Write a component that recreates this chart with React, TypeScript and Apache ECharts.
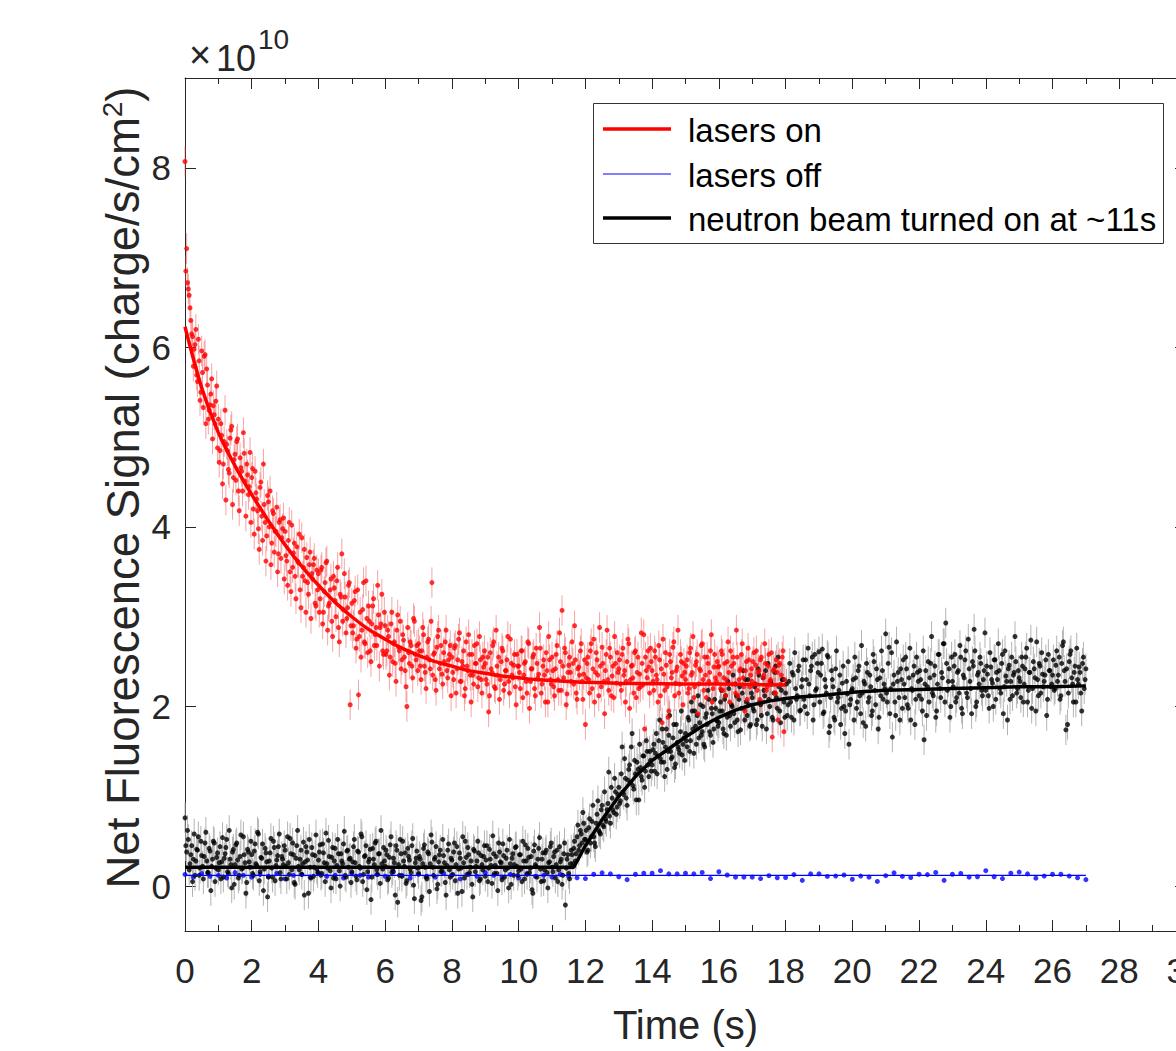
import React, { useEffect, useRef } from "react";
import * as echarts from "echarts";

const FONT = "'Liberation Sans', Arial, Helvetica, sans-serif";

// x-axis ticks (s) and y-axis ticks (×10^10)
const X_TICKS_STEP = 2;
const Y_TICKS = [0, 2, 4, 6, 8];

// sampling of the measured series (s): two interleaved sets each
const RED_DT = 0.05;
const BLACK_DT = 0.05;
const BLUE_DT = 0.25;
const OFFSET_B = 0.025;

// error-bar half-widths (×10^10)
const RED_ERR = 0.17;
const BLACK_ERR = 0.17;

// lasers on — measured points (×10^10), t = 0 .. 17.95 s
const RED_VALUES = [
  8.07, 7.1, 6.65, 6.44, 6.15, 5.79, 6.03, 5.69, 6.09, 5.41, 5.96, 5.33, 5.92, 5.76, 5.2, 5.36, 5.65, 5.35, 5.15, 5.57,
  5.2, 4.85, 5.02, 4.7, 5.3, 4.92, 4.64, 4.99, 5.12, 4.55, 4.81, 4.95, 4.4, 4.77, 4.62, 5.05, 4.51, 4.7, 4.36, 4.83,
  4.55, 4.2, 4.62, 4.31, 3.98, 4.44, 4.12, 4.7, 4.05, 3.9, 4.28, 4.4, 3.82, 4.15, 3.95, 4.22, 3.7, 4.08, 3.88, 4.1,
  3.95, 3.62, 3.85, 3.5, 4.02, 3.71, 3.45, 3.78, 3.6, 3.3, 3.88, 3.55, 3.4, 3.66, 3.25, 3.72, 3.48, 3.58, 3.15, 3.52,
  3.48, 3.2, 3.55, 3.05, 3.38, 3.62, 3.12, 3.3, 2.95, 3.45, 3.18, 3.4, 2.88, 3.25, 3.7, 3.08, 3.22, 2.98, 3.35, 2.02,
  3.15, 2.9, 3.28, 2.75, 2.13, 3.05, 2.85, 3.38, 2.7, 2.98, 3.12, 2.62, 2.92, 3.2, 2.8, 2.68, 3.02, 2.88, 3.25, 2.58,
  2.9, 2.62, 2.78, 2.55, 3.05, 2.7, 2.48, 2.85, 2.66, 2.95, 2.52, 2.74, 2.4, 2.0, 2.6, 2.72, 2.45, 2.98, 2.58, 2.68,
  2.7, 2.45, 2.62, 2.8, 2.38, 2.55, 2.75, 2.42, 3.38, 2.58, 2.3, 2.66, 2.85, 2.48, 2.36, 2.6, 2.72, 2.4, 2.52, 2.68,
  2.55, 2.3, 2.68, 2.42, 2.75, 2.28, 2.5, 2.62, 2.2, 2.45, 2.8, 2.35, 2.58, 2.25, 2.48, 2.7, 2.32, 2.52, 2.15, 2.44,
  2.48, 2.25, 1.94, 2.6, 2.38, 2.72, 2.2, 2.45, 2.55, 2.3, 2.65, 2.18, 2.4, 2.52, 2.28, 2.75, 2.35, 2.46, 2.22, 2.58,
  2.45, 2.2, 2.62, 2.35, 2.5, 2.15, 2.7, 2.28, 2.42, 2.58, 2.12, 2.48, 2.36, 2.65, 2.25, 2.52, 2.05, 2.4, 2.78, 2.3,
  2.55, 2.22, 2.42, 2.68, 2.18, 2.5, 3.07, 2.32, 2.6, 2.14, 2.46, 2.38, 2.72, 2.25, 2.52, 2.08, 2.44, 2.62, 2.28, 2.36,
  1.8, 2.48, 2.3, 2.62, 2.2, 2.75, 2.38, 2.52, 2.12, 2.45, 2.66, 2.28, 2.4, 2.85, 2.18, 2.55, 2.34, 2.1, 2.48, 2.6,
  2.42, 2.25, 2.58, 2.35, 2.05, 2.5, 2.7, 2.3, 2.46, 2.15, 2.62, 2.38, 2.2, 2.22, 2.48, 2.8, 2.55, 2.32, 2.44, 2.65,
  2.4, 2.18, 2.55, 2.3, 2.68, 2.12, 1.82, 2.36, 2.6, 2.22, 1.95, 2.5, 2.38, 2.72, 2.26, 2.44, 2.15, 2.58, 2.34, 2.48,
  2.3, 2.52, 2.2, 2.65, 2.38, 2.1, 2.46, 2.58, 2.25, 2.4, 2.7, 2.18, 2.35, 2.55, 2.28, 2.62, 2.05, 2.44, 2.32, 2.5,
  2.45, 2.2, 2.58, 2.32, 2.12, 2.5, 2.38, 2.62, 2.25, 2.48, 2.15, 2.55, 2.3, 2.42, 2.7, 2.22, 2.4, 2.08, 2.52, 2.35,
  2.28, 2.6, 2.46, 2.18, 2.4, 2.52, 2.05, 2.35, 2.48, 2.22, 2.58, 2.3, 1.66, 2.42, 2.15, 2.38, 2.46, 2.25, 2.55, 1.72,
];
// lasers on — interleaved points, t = 0.025 .. 17.975 s
const RED_VALUES_B = [
  6.85, 6.72, 6.58, 6.3, 6.12, 5.98, 6.2, 5.62, 5.85, 5.5, 5.72, 5.9, 5.15, 5.58, 5.3, 5.48, 4.98, 5.25, 5.4, 4.88,
  4.72, 5.15, 4.48, 4.95, 4.3, 4.85, 4.6, 5.08, 4.25, 4.75, 4.52, 4.98, 4.18, 4.66, 4.4, 4.82, 4.12, 4.58, 4.45, 4.05,
  4.65, 3.92, 4.38, 4.18, 3.75, 4.5, 3.85, 4.25, 3.62, 4.35, 4.0, 3.58, 4.18, 3.72, 3.95, 3.5, 4.05, 3.65, 3.98, 3.42,
  3.68, 3.35, 4.05, 3.28, 3.55, 3.82, 3.2, 3.62, 3.92, 3.1, 3.45, 3.75, 3.05, 3.38, 3.58, 2.98, 3.42, 3.65, 3.12, 3.3,
  3.05, 3.52, 2.92, 3.28, 3.6, 2.85, 3.15, 3.42, 2.78, 3.32, 3.0, 3.55, 2.72, 3.22, 2.95, 3.48, 2.82, 3.1, 3.38, 2.9,
  2.82, 3.18, 2.65, 3.3, 2.78, 2.55, 3.08, 2.72, 3.4, 2.6, 2.95, 2.5, 3.12, 2.68, 2.88, 3.35, 2.45, 2.92, 2.62, 3.05,
  2.58, 2.85, 2.35, 2.92, 2.5, 2.72, 2.28, 3.02, 2.62, 2.42, 2.8, 2.55, 2.22, 2.88, 2.48, 2.68, 2.32, 2.95, 2.52, 2.4,
  2.62, 2.3, 2.88, 2.45, 2.2, 2.72, 2.52, 2.95, 2.35, 2.6, 2.18, 2.78, 2.42, 2.68, 2.25, 2.5, 2.85, 2.32, 2.58, 2.12,
  2.38, 2.65, 2.15, 2.52, 2.82, 2.28, 2.45, 2.12, 2.72, 2.4, 2.58, 2.05, 2.35, 2.68, 2.48, 2.22, 2.78, 2.3, 2.55, 2.62,
  2.3, 2.55, 2.12, 2.42, 2.68, 2.22, 2.85, 2.35, 2.08, 2.5, 2.62, 2.25, 2.4, 2.78, 2.15, 2.48, 2.32, 2.58, 2.02, 2.45,
  2.38, 2.62, 2.1, 2.48, 2.28, 2.72, 1.98, 2.42, 2.55, 2.2, 2.65, 2.32, 2.88, 2.15, 2.45, 2.35, 2.6, 2.05, 2.52, 2.25,
  2.4, 2.12, 2.58, 2.3, 2.82, 2.18, 2.45, 2.65, 2.02, 2.38, 2.55, 2.28, 2.48, 2.9, 2.15, 2.42, 2.35, 2.7, 2.08, 2.52,
  2.32, 2.55, 2.15, 2.7, 2.42, 2.05, 2.6, 2.35, 2.88, 2.22, 2.48, 1.92, 2.58, 2.3, 2.65, 2.12, 2.45, 2.78, 2.26, 2.38,
  2.52, 2.18, 2.65, 2.4, 2.28, 2.75, 1.98, 2.45, 2.32, 2.6, 2.1, 2.55, 2.36, 2.82, 2.24, 1.75, 2.4, 2.62, 2.15, 2.5,
  2.28, 2.62, 2.35, 2.05, 2.52, 2.42, 2.75, 2.18, 2.46, 1.88, 2.58, 2.32, 2.66, 2.12, 2.4, 2.85, 2.25, 2.5, 2.02, 2.38,
  2.45, 2.15, 2.6, 2.35, 2.78, 2.22, 2.5, 1.92, 2.42, 2.68, 2.3, 2.55, 2.1, 2.48, 2.38, 2.8, 2.2, 2.58, 2.28, 2.44,
  2.36, 2.62, 2.18, 2.48, 2.3, 2.72, 2.05, 2.45, 2.55, 2.25, 2.85, 2.12, 2.4, 2.58, 2.32, 1.95, 2.5, 2.65, 2.22, 2.42,
  2.5, 2.25, 2.62, 2.38, 2.08, 2.55, 2.32, 2.7, 2.18, 2.45, 2.28, 2.6, 2.4, 2.15, 2.52, 1.85, 2.48, 2.35, 2.62, 2.3,
];

// neutron beam — measured points (×10^10), t = 0 .. 27 s
const BLACK_VALUES = [
  0.76, 0.38, 0.52, 0.25, 0.45, 0.3, 0.12, 0.41, 0.55, 0.2, 0.34, 0.08, 0.48, 0.28, 0.15, 0.39, 0.22, 0.5, 0.05, 0.32,
  0.18, 0.44, 0.27, 0.1, 0.36, 0.52, 0.14, 0.3, -0.02, 0.41, 0.24, 0.48, 0.09, 0.33, 0.19, 0.55, 0.26, 0.04, 0.38, 0.21,
  0.35, 0.12, 0.47, 0.23, 0.58, 0.16, 0.31, -0.05, 0.42, 0.27, 0.1, 0.37, 0.2, 0.5, 0.06, 0.29, 0.44, 0.15, 0.33, 0.24,
  0.4, 0.08, 0.26, 0.53, 0.18, 0.35, 0.02, 0.45, 0.22, 0.3, 0.13, 0.49, 0.27, 0.38, -0.08, 0.21, 0.43, 0.11, 0.34, 0.19,
  0.29, 0.46, 0.14, 0.37, 0.05, 0.25, 0.51, 0.17, 0.32, 0.09, 0.42, 0.23, 0.36, 0.0, 0.28, 0.47, 0.12, 0.39, 0.21, 0.31,
  0.16, 0.44, 0.26, 0.07, 0.38, 0.2, 0.55, 0.13, 0.34, -0.04, 0.27, 0.41, 0.1, 0.3, 0.48, 0.18, 0.36, 0.03, 0.25, 0.43,
  0.22, 0.35, 0.09, 0.46, 0.15, 0.31, -0.1, 0.4, 0.24, 0.52, 0.11, 0.28, 0.37, 0.06, 0.33, 0.19, 0.45, 0.01, 0.26, 0.39,
  0.14, 0.3, -0.12, 0.42, 0.21, 0.08, 0.36, 0.25, 0.49, 0.12, 0.32, -0.03, 0.27, 0.4, 0.17, 0.34, 0.04, 0.23, 0.47, 0.1,
  0.29, 0.38, 0.06, 0.44, 0.19, 0.31, -0.06, 0.26, 0.5, 0.13, 0.35, 0.21, 0.02, 0.41, 0.16, 0.28, 0.37, 0.08, 0.24, 0.33,
  0.11, 0.45, 0.2, 0.3, 0.03, 0.36, 0.23, 0.14, 0.48, 0.27, 0.07, 0.34, 0.18, 0.4, -0.02, 0.25, 0.31, 0.12, 0.43, 0.22,
  0.17, 0.35, 0.05, 0.28, 0.46, 0.13, 0.32, 0.2, -0.04, 0.39, 0.24, 0.1, 0.42, 0.19, 0.3, 0.06, 0.37, 0.15, 0.26, 0.44,
  0.21, 0.33, 0.09, 0.4, 0.18, 0.27, 0.02, 0.36, -0.21, 0.3, 0.14, 0.25, 0.35, 0.42, 0.28, 0.55, 0.4, 0.62, 0.48, 0.7,
  0.52, 0.38, 0.65, 0.48, 0.72, 0.55, 0.44, 0.8, 0.62, 0.58, 0.9, 0.66, 0.75, 0.85, 1.27, 0.7, 0.98, 0.82, 1.05, 0.88,
  1.1, 0.95, 1.55, 1.02, 1.2, 0.9, 1.3, 1.15, 1.7, 1.08, 1.25, 1.38, 0.96, 1.32, 1.18, 1.45, 1.28, 1.5, 1.22, 1.4,
  1.35, 1.58, 1.48, 1.25, 1.62, 1.42, 1.75, 1.38, 1.55, 1.3, 1.68, 1.5, 1.44, 1.8, 1.36, 1.6, 1.52, 1.72, 1.46, 1.65,
  1.7, 1.55, 1.85, 1.62, 1.95, 1.48, 1.78, 1.9, 1.65, 2.02, 1.72, 1.58, 1.88, 1.8, 2.08, 1.68, 1.92, 1.75, 1.98, 1.84,
  1.82, 2.05, 1.95, 1.7, 2.12, 1.88, 2.2, 1.78, 2.0, 1.92, 2.25, 1.85, 2.08, 1.74, 2.15, 1.98, 2.3, 1.9, 2.02, 1.8,
  2.1, 1.95, 2.25, 1.85, 2.35, 2.02, 1.78, 2.18, 2.4, 1.92, 2.08, 2.28, 1.88, 2.15, 2.45, 1.98, 2.22, 1.82, 2.3, 2.05,
  2.15, 1.9, 2.28, 2.05, 2.38, 1.85, 2.2, 2.12, 2.45, 1.96, 2.3, 2.08, 2.52, 1.92, 2.25, 2.4, 2.55, 2.02, 2.18, 2.48,
  2.61, 2.35, 2.64, 1.94, 2.22, 2.57, 1.71, 2.1, 2.3, 1.88, 2.42, 2.05, 2.18, 1.8, 2.26, 2.0, 1.95, 2.14, 1.58, 2.08,
  2.2, 1.85, 2.32, 2.05, 2.45, 1.92, 2.15, 2.28, 1.78, 2.38, 2.1, 2.22, 1.95, 2.5, 2.02, 2.3, 1.88, 2.12, 2.4, 2.25,
  2.81, 2.05, 2.66, 2.2, 1.66, 2.35, 1.9, 2.28, 2.1, 2.42, 1.98, 2.25, 2.55, 2.02, 2.32, 1.85, 2.18, 2.45, 2.08, 2.38,
  2.12, 2.3, 1.95, 1.63, 2.4, 2.22, 2.05, 2.48, 2.15, 2.35, 1.88, 2.25, 2.58, 2.1, 2.32, 2.7, 2.93, 2.18, 2.42, 2.0,
  2.28, 2.45, 2.05, 2.38, 2.15, 2.55, 1.92, 2.32, 2.62, 2.1, 2.42, 2.2, 2.5, 2.86, 2.0, 2.35, 2.25, 2.48, 2.12, 2.4,
  2.18, 2.36, 1.98, 2.44, 2.26, 2.52, 2.08, 2.3, 2.4, 2.15, 2.58, 2.22, 2.34, 1.85, 2.46, 2.28, 2.12, 2.38, 2.5, 2.2,
  2.32, 2.1, 2.45, 2.25, 2.55, 2.05, 2.38, 2.74, 2.2, 2.42, 1.95, 2.3, 2.48, 2.15, 2.36, 2.28, 2.52, 2.08, 2.4, 2.22,
  2.35, 2.18, 2.46, 2.28, 2.55, 2.12, 2.68, 2.4, 1.74, 1.8, 2.5, 2.62, 2.25, 2.38, 2.05, 2.3, 2.44, 2.15, 2.48, 2.2,
  2.42,
];
// neutron beam — interleaved points, t = 0.025 .. 26.975 s
const BLACK_VALUES_B = [
  0.45, 0.62, 0.18, 0.35, 0.05, 0.58, 0.28, 0.4, 0.12, 0.5, 0.22, 0.33, 0.6, 0.15, 0.42, -0.05, 0.3, 0.48, 0.2, 0.37,
  0.26, 0.08, 0.54, 0.31, 0.43, 0.16, 0.62, 0.24, 0.38, 0.02, 0.46, 0.29, 0.12, 0.57, 0.2, 0.35, -0.08, 0.41, 0.27, 0.5,
  0.14, 0.39, 0.25, 0.6, 0.06, 0.32, 0.47, 0.19, 0.37, -0.12, 0.28, 0.53, 0.1, 0.43, 0.23, 0.34, 0.58, 0.08, 0.3, 0.45,
  0.22, 0.55, 0.13, 0.36, 0.48, 0.04, 0.31, 0.62, 0.18, 0.4, 0.25, -0.1, 0.44, 0.29, 0.52, 0.09, 0.35, 0.21, 0.57, 0.15,
  0.38, 0.12, 0.47, 0.26, 0.59, 0.2, 0.33, -0.02, 0.43, 0.28, 0.08, 0.52, 0.17, 0.36, 0.25, 0.61, 0.1, 0.4, 0.3, 0.04,
  0.27, 0.52, 0.11, 0.39, 0.22, 0.58, 0.05, 0.33, 0.45, 0.16, 0.3, -0.15, 0.42, 0.24, 0.5, 0.13, 0.36, 0.62, 0.19, 0.28,
  0.4, 0.07, 0.32, 0.55, 0.18, 0.26, 0.45, -0.18, 0.12, 0.36, 0.5, 0.22, 0.03, 0.42, 0.29, 0.15, 0.53, -0.14, 0.31, 0.2,
  0.33, -0.16, 0.25, 0.46, 0.1, 0.38, -0.06, 0.57, 0.21, 0.3, 0.44, 0.02, 0.35, 0.16, 0.52, 0.26, -0.1, 0.4, 0.18, 0.31,
  0.13, 0.48, 0.24, -0.08, 0.37, 0.2, 0.55, 0.09, 0.32, 0.43, 0.15, 0.28, -0.12, 0.39, 0.22, 0.5, 0.06, 0.34, 0.18, 0.45,
  0.29, 0.05, 0.41, 0.23, 0.56, 0.14, 0.33, -0.05, 0.38, 0.26, 0.47, 0.1, 0.31, 0.2, 0.52, 0.02, 0.36, 0.24, 0.44, 0.12,
  0.35, 0.19, 0.5, 0.08, 0.28, 0.42, 0.15, 0.33, -0.08, 0.46, 0.22, 0.3, 0.54, 0.05, 0.37, 0.18, 0.4, -0.02, 0.27, 0.48,
  0.16, 0.38, 0.24, 0.05, 0.44, 0.3, 0.12, 0.48, 0.2, 0.35, 0.08, 0.4, 0.25, 0.5, 0.36, 0.68, 0.45, 0.58, 0.82, 0.52,
  0.62, 0.4, 0.75, 0.55, 0.9, 0.48, 0.7, 0.95, 0.6, 0.85, 0.68, 1.05, 0.72, 0.92, 0.78, 1.1, 0.85, 1.2, 0.8, 1.02,
  0.92, 1.25, 1.05, 1.42, 0.98, 1.18, 1.35, 1.55, 1.12, 1.4, 0.96, 1.3, 1.58, 1.22, 1.45, 1.1, 1.62, 1.35, 1.5, 1.28,
  1.52, 1.28, 1.7, 1.45, 1.85, 1.38, 1.6, 1.22, 1.75, 1.5, 1.9, 1.42, 1.65, 1.32, 1.8, 1.55, 1.48, 1.95, 1.58, 1.4,
  1.62, 1.88, 1.5, 2.05, 1.75, 1.95, 1.58, 2.12, 1.82, 1.68, 2.0, 1.55, 1.92, 2.18, 1.72, 1.98, 1.6, 2.08, 1.85, 1.78,
  1.95, 2.18, 1.75, 2.08, 1.68, 2.28, 1.9, 2.02, 2.35, 1.82, 2.12, 1.72, 2.22, 1.98, 2.4, 1.85, 2.05, 2.3, 1.78, 2.15,
  1.98, 2.22, 1.8, 2.42, 2.05, 1.9, 2.32, 2.12, 1.75, 2.48, 2.0, 2.25, 1.85, 2.38, 2.1, 2.55, 1.95, 2.18, 2.3, 1.88,
  2.25, 2.02, 2.48, 1.88, 2.35, 2.6, 2.08, 2.4, 1.95, 2.22, 2.52, 2.0, 2.3, 2.65, 2.12, 2.45, 1.85, 2.58, 2.2, 2.38,
  2.05, 2.48, 1.92, 2.3, 2.15, 2.55, 1.78, 2.4, 2.22, 1.85, 2.62, 2.1, 2.35, 1.98, 2.45, 1.7, 2.28, 2.5, 2.02, 2.18,
  2.3, 2.55, 1.98, 2.4, 2.12, 2.68, 1.82, 2.25, 2.48, 2.05, 2.35, 1.9, 2.58, 2.18, 2.42, 1.75, 2.32, 2.62, 2.08, 2.2,
  2.15, 2.48, 1.92, 2.6, 2.25, 2.05, 2.72, 2.38, 1.85, 2.3, 2.52, 2.1, 2.42, 1.98, 2.65, 2.2, 2.35, 1.8, 2.55, 2.28,
  2.4, 2.08, 2.62, 2.25, 1.9, 2.5, 2.32, 2.78, 2.12, 2.45, 1.95, 2.58, 2.2, 2.38, 2.7, 2.05, 2.48, 2.28, 1.88, 2.55,
  2.22, 2.58, 2.1, 2.4, 2.68, 1.98, 2.35, 2.52, 2.15, 2.75, 2.28, 1.92, 2.45, 2.62, 2.05, 2.38, 2.55, 2.18, 2.3, 2.82,
  2.45, 2.12, 2.6, 2.3, 2.0, 2.52, 2.38, 2.7, 2.2, 2.48, 1.92, 2.62, 2.28, 2.42, 2.08, 2.55, 2.35, 2.78, 2.15, 2.4,
  2.28, 2.55, 2.05, 2.42, 2.65, 2.18, 2.38, 1.98, 2.5, 2.32, 2.72, 2.12, 2.45, 2.6, 2.22, 2.35, 1.9, 2.58, 2.4, 2.25,
  2.52, 2.2, 2.62, 2.35, 2.08, 2.48, 2.72, 2.28, 2.42, 2.15, 2.58, 2.32, 2.05, 2.45, 2.65, 2.25, 2.38, 1.95, 2.55, 2.3,
];

// lasers off — measured points (×10^10), t = 0 .. 27 s
const BLUE_VALUES = [
  0.13, 0.1, 0.14, 0.11, 0.12, 0.09, 0.15, 0.12, 0.1, 0.13,
  0.11, 0.14, 0.08, 0.12, 0.13, 0.1, 0.15, 0.11, 0.12, 0.09,
  0.14, 0.12, 0.1, 0.13, 0.11, 0.16, 0.12, 0.09, 0.13, 0.11,
  0.1, 0.14, 0.12, 0.08, 0.13, 0.11, 0.15, 0.12, 0.1, 0.13,
  0.09, 0.14, 0.11, 0.12, 0.1, 0.13, 0.11,
  0.092, 0.084, 0.132, 0.148, 0.136, 0.104, 0.072, 0.132, 0.144, 0.144,
  0.172, 0.136, 0.136, 0.144, 0.136, 0.152, 0.084, 0.16, 0.124, 0.1,
  0.1, 0.1, 0.084, 0.116, 0.092, 0.096, 0.128, 0.064, 0.136, 0.136,
  0.108, 0.112, 0.124, 0.076, 0.112, 0.1, 0.052, 0.116, 0.148, 0.108,
  0.096, 0.132, 0.128, 0.152, 0.064, 0.132, 0.14, 0.1, 0.104, 0.172,
  0.104, 0.084, 0.144, 0.156, 0.136, 0.088, 0.112, 0.132, 0.132, 0.112,
  0.092, 0.072,
];

// fitted curves (time in s, value ×10^10)
const RED_FIT_T = [0, 0.5, 1, 1.5, 2, 2.5, 3, 3.5, 4, 4.5, 5, 5.5, 6, 6.5, 7, 7.5, 8, 8.5, 9, 9.5, 10, 10.5, 11, 11.5, 12, 13, 14, 15, 16, 17, 18];
const RED_FIT_V = [6.23, 5.55, 5.05, 4.68, 4.36, 4.07, 3.8, 3.56, 3.35, 3.16, 3.0, 2.86, 2.75, 2.65, 2.57, 2.5, 2.45, 2.4, 2.37, 2.34, 2.32, 2.3, 2.29, 2.28, 2.27, 2.26, 2.255, 2.25, 2.25, 2.245, 2.24];

const BLACK_FIT_T = [0, 11.65, 12, 12.5, 13, 13.5, 14, 14.5, 15, 15.5, 16, 16.5, 17, 17.5, 18, 18.5, 19, 19.5, 20, 21, 22, 23, 24, 25, 26, 27];
const BLACK_FIT_V = [0.21, 0.21, 0.45, 0.74, 1.0, 1.22, 1.4, 1.53, 1.66, 1.78, 1.88, 1.96, 2.02, 2.06, 2.09, 2.11, 2.12, 2.14, 2.16, 2.18, 2.19, 2.2, 2.21, 2.22, 2.22, 2.23];

const BLUE_FIT_T = [0, 27];
const BLUE_FIT_V = [0.12, 0.12];

const LEGEND_NAMES = ["lasers on", "lasers off", "neutron beam turned on at ~11s"];
const LEGEND_COLORS = ["#ff0000", "#0000ff", "#000000"];
const LEGEND_WIDTHS = [3.5, 1.2, 3.5];

const AXIS_COLOR = "#262626";

function toPoints(values: number[], dt: number, t0 = 0) {
  return values.map((v, i) => [Math.round((t0 + i * dt) * 1000) / 1000, v]);
}
function toErr(values: number[], dt: number, err: number, t0 = 0) {
  return values.map((v, i) => [Math.round((t0 + i * dt) * 1000) / 1000, v, err]);
}
function zip(t: number[], v: number[]) {
  return t.map((x, i) => [x, v[i]]);
}

function errRender(color: string) {
  return (params: any, api: any) => {
    const x = api.value(0);
    const y = api.value(1);
    const e = api.value(2);
    const a = api.coord([x, y - e]);
    const b = api.coord([x, y + e]);
    return {
      type: "line",
      shape: { x1: a[0], y1: a[1], x2: b[0], y2: b[1] },
      style: { stroke: color, lineWidth: 1 },
      silent: true,
    };
  };
}

export default function App() {
  const ref = useRef<HTMLDivElement>(null);

  useEffect(() => {
    if (!ref.current) return;
    const chart = echarts.init(ref.current, null, { renderer: "svg" });

    const axisLine = { show: true, onZero: false, lineStyle: { color: AXIS_COLOR, width: 1 } };
    const tick = { show: true, inside: true, length: 11, lineStyle: { color: AXIS_COLOR, width: 1 } };
    const minor = { show: true, splitNumber: 2, length: 6, lineStyle: { color: AXIS_COLOR, width: 1 } };

    const redPts = toPoints(RED_VALUES, RED_DT).concat(toPoints(RED_VALUES_B, RED_DT, OFFSET_B));
    const redErr = toErr(RED_VALUES, RED_DT, RED_ERR).concat(toErr(RED_VALUES_B, RED_DT, RED_ERR, OFFSET_B));
    const blackPts = toPoints(BLACK_VALUES, BLACK_DT).concat(toPoints(BLACK_VALUES_B, BLACK_DT, OFFSET_B));
    const blackErr = toErr(BLACK_VALUES, BLACK_DT, BLACK_ERR).concat(toErr(BLACK_VALUES_B, BLACK_DT, BLACK_ERR, OFFSET_B));

    const legendTop = 103;
    const rowY = [129, 174, 218];
    const legendGraphic: any[] = [
      {
        type: "rect",
        z: 100,
        silent: true,
        shape: { x: 593.5, y: legendTop + 0.5, width: 570, height: 140 },
        style: { fill: "#ffffff", stroke: "#333333", lineWidth: 1 },
      },
    ];
    LEGEND_NAMES.forEach((name, i) => {
      legendGraphic.push({
        type: "line",
        z: 101,
        silent: true,
        shape: { x1: 603, y1: rowY[i], x2: 671, y2: rowY[i] },
        style: { stroke: LEGEND_COLORS[i], lineWidth: LEGEND_WIDTHS[i] },
      });
      legendGraphic.push({
        type: "text",
        z: 101,
        silent: true,
        style: { text: name, x: 688, y: rowY[i] + 1, verticalAlign: "middle", fontSize: 33, fill: "#000000", fontFamily: FONT },
      });
    });

    const option: any = {
      animation: false,
      backgroundColor: "#ffffff",
      textStyle: { fontFamily: FONT },
      grid: { left: 185, top: 78, width: 1001, height: 853, show: false, outerBoundsMode: "none", containLabel: false },
      xAxis: [
        {
          type: "value",
          min: 0,
          max: 30,
          interval: X_TICKS_STEP,
          position: "bottom",
          axisLine,
          axisTick: tick,
          minorTick: minor,
          splitLine: { show: false },
          axisLabel: { fontSize: 35, color: AXIS_COLOR, margin: 22, fontFamily: FONT },
          name: "Time (s)",
          nameLocation: "middle",
          nameGap: 74,
          nameTextStyle: { fontSize: 40, color: AXIS_COLOR, fontFamily: FONT },
        },
        {
          type: "value",
          min: 0,
          max: 30,
          interval: X_TICKS_STEP,
          position: "top",
          axisLine,
          axisTick: tick,
          minorTick: minor,
          splitLine: { show: false },
          axisLabel: { show: false },
        },
      ],
      yAxis: [
        {
          type: "value",
          min: -0.5,
          max: 9,
          position: "left",
          axisLine,
          axisTick: { ...tick, customValues: Y_TICKS },
          splitLine: { show: false },
          axisLabel: { customValues: Y_TICKS, fontSize: 35, color: AXIS_COLOR, margin: 14, fontFamily: FONT },
          name: "Net Fluorescence Signal (charge/s/cm{sup|2})",
          nameLocation: "middle",
          nameRotate: 90,
          nameGap: 37,
          nameMoveOverlap: false,
          nameTextStyle: {
            fontSize: 45.5,
            color: AXIS_COLOR,
            fontFamily: FONT,
            lineHeight: 50,
            padding: [0, 0, 0, 34],
            rich: { sup: { fontSize: 28, color: AXIS_COLOR, fontFamily: FONT, verticalAlign: "top", lineHeight: 28 } },
          },
        },
        {
          type: "value",
          min: -0.5,
          max: 9,
          position: "right",
          axisLine,
          axisTick: { ...tick, customValues: Y_TICKS },
          splitLine: { show: false },
          axisLabel: { show: false },
        },
      ],
      graphic: [
        { type: "text", silent: true, style: { text: "×", x: 189, y: 74, verticalAlign: "bottom", fontSize: 38, fill: AXIS_COLOR, fontFamily: FONT } },
        { type: "text", silent: true, style: { text: "10", x: 216, y: 76, verticalAlign: "bottom", fontSize: 36, fill: AXIS_COLOR, fontFamily: FONT } },
        { type: "text", silent: true, style: { text: "10", x: 258, y: 53, verticalAlign: "bottom", fontSize: 28, fill: AXIS_COLOR, fontFamily: FONT } },
        ...legendGraphic,
      ],
      series: [
        {
          type: "scatter",
          name: "lasers off data",
          data: toPoints(BLUE_VALUES, BLUE_DT),
          symbolSize: 5,
          itemStyle: { color: "#0000ff" },
          silent: true,
        },
        {
          type: "custom",
          name: "beam err",
          data: blackErr,
          renderItem: errRender("#b3b3b3"),
          encode: { x: 0, y: 1 },
          silent: true,
        },
        {
          type: "scatter",
          name: "beam data",
          data: blackPts,
          symbolSize: 5,
          itemStyle: { color: "#000000" },
          silent: true,
        },
        {
          type: "custom",
          name: "lasers on err",
          data: redErr,
          renderItem: errRender("rgba(238,90,90,0.55)"),
          encode: { x: 0, y: 1 },
          silent: true,
        },
        {
          type: "scatter",
          name: "lasers on data",
          data: redPts,
          symbolSize: 5,
          itemStyle: { color: "#ff0000" },
          silent: true,
        },
        {
          type: "line",
          name: LEGEND_NAMES[0],
          data: zip(RED_FIT_T, RED_FIT_V),
          showSymbol: false,
          symbol: "none",
          smooth: 0.3,
          lineStyle: { color: "#ff0000", width: 3.5 },
          silent: true,
        },
        {
          type: "line",
          name: LEGEND_NAMES[2],
          data: zip(BLACK_FIT_T, BLACK_FIT_V),
          showSymbol: false,
          symbol: "none",
          lineStyle: { color: "#000000", width: 3.5 },
          silent: true,
        },
        {
          type: "line",
          name: LEGEND_NAMES[1],
          data: zip(BLUE_FIT_T, BLUE_FIT_V),
          showSymbol: false,
          symbol: "none",
          lineStyle: { color: "#0000ff", width: 1.2 },
          silent: true,
        },
      ],
    };

    chart.setOption(option);
    return () => chart.dispose();
  }, []);

  return (
    <div
      ref={ref}
      style={{ position: "fixed", left: 0, top: 0, width: 1176, height: 1051, background: "#fff" }}
    />
  );
}
